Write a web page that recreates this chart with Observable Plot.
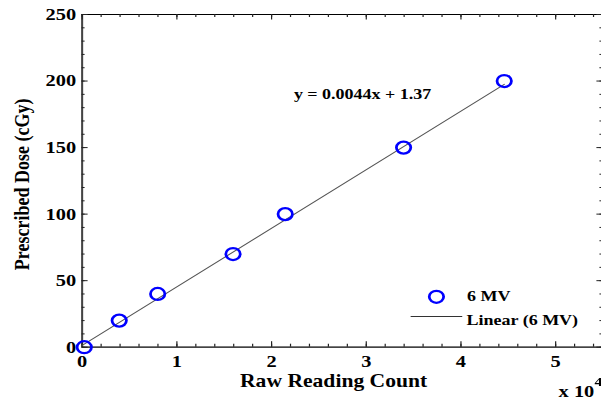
<!DOCTYPE html>
<html><head><meta charset="utf-8">
<script src="https://cdn.jsdelivr.net/npm/d3@7"></script>
<script src="https://cdn.jsdelivr.net/npm/@observablehq/plot@0.6"></script>
<style>
html,body{margin:0;padding:0;background:#fff;overflow:hidden;width:601px;height:403px;}
#chart{transform:scaleX(1.2);transform-origin:0 0;width:502px;height:403px;}
</style></head><body><div id="chart"></div>
<script>
// ---- data ----
const readings = [220, 3910, 7970, 15930, 21440, 33940, 44570];
const doses = [0, 20, 40, 70, 100, 150, 200];
const seriesName = "6 MV";
const fitName = "Linear (6 MV)";
const fitSlope = 0.0044;
const fitIntercept = 1.37;
const equation = "y = 0.0044x + 1.37";
const xTicks = [0, 10000, 20000, 30000, 40000, 50000];
const xTickLabels = ["0", "1", "2", "3", "4", "5"];
const yTicks = [0, 50, 100, 150, 200, 250];
const xMinorStep = 2000;
const yMinorStep = 10;
const xLabel = "Raw Reading Count";
const yLabel = "Prescribed Dose (cGy)";
const xScaleNote = "x 10";
const xScaleExp = "4";

// ---- layout ----
const W = 502, H = 403, mL = 68, mR = 0, mT = 14, mB = 56.3;
const plotW = W - mL - mR, plotH = H - mT - mB;
const font = "'Liberation Serif', 'Times New Roman', serif";
const blue = "#0000ff";

const points = readings.map((x, i) => ({x, y: doses[i]}));
const fitX = [0, d3.max(readings)];
const fit = fitX.map(x => ({x, y: fitSlope * x + fitIntercept}));
const xMinor = d3.range(0, 55000 + 1, xMinorStep);
const yMinor = d3.range(0, 250 + 1, yMinorStep);

const lineSymbol = {draw(ctx) { ctx.moveTo(-21.5, 0); ctx.lineTo(21.5, 0); }};

const chart = Plot.plot({
  width: W, height: H,
  marginLeft: mL, marginRight: mR, marginTop: mT, marginBottom: mB,
  style: {fontFamily: font, fontWeight: "bold", background: "#fff", overflow: "visible"},
  x: {domain: [0, 55000]},
  y: {domain: [0, 250]},
  marks: [
    Plot.frame({stroke: "#000", strokeWidth: 1}),
    Plot.ruleX([0], {stroke: "#444", strokeWidth: 1.6}),
    Plot.ruleY([0], {stroke: "#444", strokeWidth: 1.6}),
    // inward ticks
    Plot.tickX(xMinor, {x: d => d, insetTop: plotH - 3, stroke: "#222"}),
    Plot.tickX(xMinor, {x: d => d, insetBottom: plotH - 3, stroke: "#222"}),
    Plot.tickX(xTicks, {x: d => d, insetTop: plotH - 5.5, stroke: "#222"}),
    Plot.tickX(xTicks, {x: d => d, insetBottom: plotH - 5.5, stroke: "#222"}),
    Plot.tickY(yMinor, {y: d => d, insetRight: plotW - 2.5, stroke: "#222"}),
    Plot.tickY(yMinor, {y: d => d, insetLeft: plotW - 2.5, stroke: "#222"}),
    Plot.tickY(yTicks, {y: d => d, insetRight: plotW - 5, stroke: "#222"}),
    Plot.tickY(yTicks, {y: d => d, insetLeft: plotW - 5, stroke: "#222"}),
    Plot.axisX(xTicks, {tickSize: 0, tickPadding: 8, fontSize: 17, fontWeight: "bold",
      tickFormat: d => xTickLabels[xTicks.indexOf(d)], label: null}),
    Plot.axisY(yTicks, {tickSize: 0, tickPadding: 5, fontSize: 17, fontWeight: "bold", label: null}),
    // fit line and points
    Plot.line(fit, {x: "x", y: "y", stroke: "#555", strokeWidth: 1}),
    Plot.dot(points, {x: "x", y: "y", r: 6, stroke: blue, strokeWidth: 2.3, fill: "none"}),
    // annotation
    Plot.text([equation], {text: d => d, frameAnchor: "top-left", dx: 176.4, dy: 79.3,
      textAnchor: "start", lineAnchor: "middle", fontSize: 15, fontWeight: "bold", fill: "#000"}),
    // legend
    Plot.dot([seriesName], {frameAnchor: "bottom-right", dx: -138.8, dy: -50.4, r: 6,
      stroke: blue, strokeWidth: 2.3, fill: "none"}),
    Plot.dot([fitName], {frameAnchor: "bottom-right", dx: -138.8, dy: -30.7, symbol: lineSymbol,
      stroke: "#333", strokeWidth: 1, fill: "none"}),
    Plot.text([seriesName], {text: d => d, frameAnchor: "bottom-right", dx: -113.3, dy: -50.7,
      textAnchor: "start", lineAnchor: "middle", fontSize: 15, fontWeight: "bold", fill: "#000"}),
    Plot.text([fitName], {text: d => d, frameAnchor: "bottom-right", dx: -113.7, dy: -27.4,
      textAnchor: "start", lineAnchor: "middle", fontSize: 15, fontWeight: "bold", fill: "#000"}),
    // axis titles
    Plot.text([xLabel], {text: d => d, frameAnchor: "bottom", dx: -7.5, dy: 39.3,
      textAnchor: "middle", lineAnchor: "bottom", fontSize: 18, fontWeight: "bold", fill: "#000"}),
    Plot.text([yLabel], {text: d => d, frameAnchor: "left", dx: -50.5, dy: 3.5, rotate: -90,
      textAnchor: "middle", lineAnchor: "middle", fontSize: 18, fontWeight: "bold", fill: "#000"}),
    Plot.text([xScaleNote], {text: d => d, frameAnchor: "bottom-right", dx: -37, dy: 50,
      textAnchor: "start", lineAnchor: "bottom", fontSize: 17, fontWeight: "bold", fill: "#000"}),
    Plot.text([xScaleExp], {text: d => d, frameAnchor: "bottom-right", dx: -7, dy: 38.3,
      textAnchor: "start", lineAnchor: "bottom", fontSize: 13, fontWeight: "bold", fill: "#000"})
  ]
});
document.getElementById("chart").append(chart);
</script></body></html>
